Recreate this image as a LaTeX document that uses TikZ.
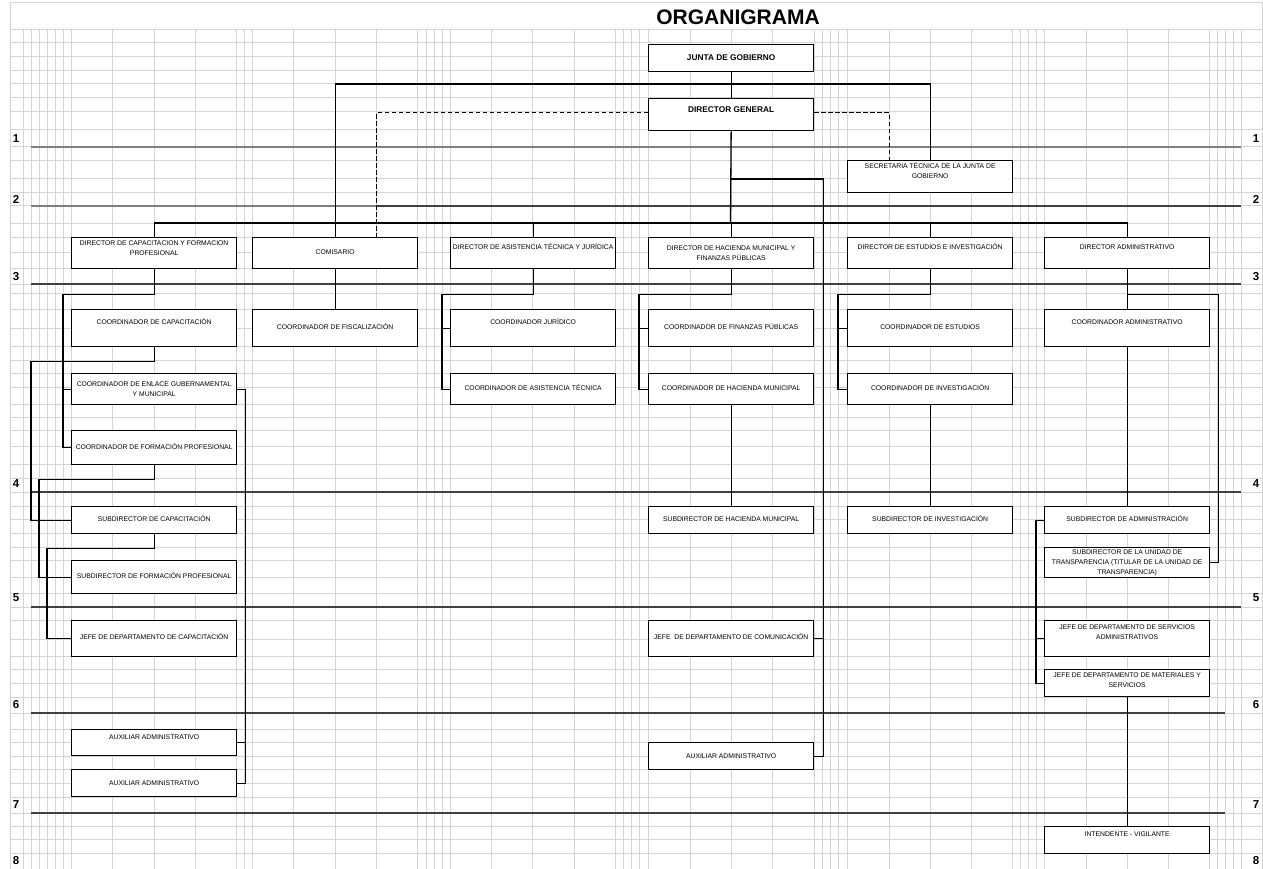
\documentclass[tikz,border=0pt]{standalone}
\usepackage{fontspec}
\setmainfont{Liberation Sans}
\begin{document}
\begin{tikzpicture}[x=1pt,y=-1pt,
  gridline/.style={draw=black!17, line width=1pt},
  rowline/.style={draw=black!75, line width=1.3pt},
  rowlabel/.style={font=\bfseries\fontsize{11.5}{12}\selectfont, inner sep=0pt},
  box/.style={draw, fill=white, line width=1.3pt, anchor=north west, minimum width=165pt,
    inner xsep=1pt, inner ysep=0pt, align=center, font=\fontsize{6.8}{10}\selectfont},
  headbox/.style={box, font=\bfseries\fontsize{8.3}{10}\selectfont},
  hgt/.style n args={3}{minimum height=#1pt, text height=#2pt, text depth=#3pt},
  conn/.style={line width=1.3pt},
]
\useasboundingbox (0,0) rectangle (1263,869);

% Spreadsheet grid
\draw[gridline] (10,869) -- (10,3) -- (1262,3) -- (1262,869);
\foreach \gx in {23,31,39,47,55,63,71,112,154,195,236,244,252,293,335,376,417,426,434,442,
  450,491,532,574,615,623,631,639,648,690,731,772,814,822,830,838,847,889,930,971,1012,
  1020,1028,1036,1044,1086,1127,1168,1209,1217,1225,1233,1241}
  \draw[gridline] (\gx,30) -- (\gx,869);
\foreach \gy in {30,43,57,71,84,98,112,130,147,161,179,193,206,223,237,252,268,284,293,309,
  328,346,360,373,387,404,417,430,446,464,478,492,506,519,533,547,560,577,593,607,620,639,
  656,669,683,697,713,729,742,756,769,783,797,813,826,839,853}
  \draw[gridline] (10,\gy) -- (1262,\gy);

% Level lines and numbers
\draw[rowline, draw=black!50] (31,147) -- (1241,147);
\draw[rowline, draw=black!50] (31,206) -- (376,206);
\draw[rowline] (376,206) -- (1241,206);
\foreach \ry/\rx in {284/1241, 492/1241, 607/1241, 713/1225, 813/1225}
  \draw[rowline] (31,\ry) -- (\rx,\ry);
\foreach \n/\ly in {1/139, 2/199, 3/277, 4/484, 5/598, 6/705, 7/805, 8/861} {
  \node[rowlabel] (l\n) at (16,\ly) {\n};
  \node[rowlabel] (r\n) at (1256,\ly) {\n};
}

\node[font=\bfseries\fontsize{21}{21}\selectfont, inner sep=0pt] (title) at (738,17.5) {ORGANIGRAMA};

% Top level
\node[headbox, hgt={27}{16}{11}] (jg) at (648,44) {JUNTA DE GOBIERNO};
\node[headbox, hgt={32}{14}{18}] (dg) at (648,98) {DIRECTOR GENERAL};
\node[box, hgt={32}{18}{14}] (stjg) at (847,160) {SECRETARIA TÉCNICA DE LA JUNTA DE\\GOBIERNO};

% Directors
\node[box, hgt={31}{17.5}{13.5}] (dcfp) at (71,237) {DIRECTOR DE CAPACITACION Y FORMACION\\PROFESIONAL};
\node[box, hgt={31}{17}{14}] (com) at (252,237) {COMISARIO};
\node[box, hgt={31}{12}{19}] (data) at (450,237) {DIRECTOR DE ASISTENCIA TÉCNICA Y JURÍDICA};
\node[box, hgt={31}{22.5}{8.5}] (dhmfp) at (648,237) {DIRECTOR DE HACIENDA MUNICIPAL Y\\FINANZAS PÚBLICAS};
\node[box, hgt={31}{12}{19}] (dei) at (847,237) {DIRECTOR DE ESTUDIOS E INVESTIGACIÓN};
\node[box, hgt={31}{12}{19}] (dadm) at (1044,237) {DIRECTOR ADMINISTRATIVO};

% Coordinators
\node[box, hgt={37}{15}{22}] (ccap) at (71,309) {COORDINADOR DE CAPACITACIÓN};
\node[box, hgt={37}{20}{17}] (cfis) at (252,309) {COORDINADOR DE FISCALIZACIÓN};
\node[box, hgt={37}{15}{22}] (cjur) at (450,309) {COORDINADOR JURÍDICO};
\node[box, hgt={37}{20}{17}] (cfp) at (648,309) {COORDINADOR DE FINANZAS PÚBLICAS};
\node[box, hgt={37}{20}{17}] (cest) at (847,309) {COORDINADOR DE ESTUDIOS};
\node[box, hgt={37}{15}{22}] (cadm) at (1044,309) {COORDINADOR ADMINISTRATIVO};
\node[box, hgt={31}{23}{8}] (cegm) at (71,373) {COORDINADOR DE ENLACE GUBERNAMENTAL\\Y MUNICIPAL};
\node[box, hgt={31}{17}{14}] (cat) at (450,373) {COORDINADOR DE ASISTENCIA TÉCNICA};
\node[box, hgt={31}{17}{14}] (chm) at (648,373) {COORDINADOR DE HACIENDA MUNICIPAL};
\node[box, hgt={31}{17}{14}] (cinv) at (847,373) {COORDINADOR DE INVESTIGACIÓN};
\node[box, hgt={34}{19}{15}] (cform) at (71,430) {COORDINADOR DE FORMACIÓN PROFESIONAL};

% Subdirectors
\node[box, hgt={27}{15}{12}] (scap) at (71,506) {SUBDIRECTOR DE CAPACITACIÓN};
\node[box, hgt={27}{15}{12}] (shm) at (648,506) {SUBDIRECTOR DE HACIENDA MUNICIPAL};
\node[box, hgt={27}{15}{12}] (sinv) at (847,506) {SUBDIRECTOR DE INVESTIGACIÓN};
\node[box, hgt={27}{15}{12}] (sadm) at (1044,506) {SUBDIRECTOR DE ADMINISTRACIÓN};
\node[box, hgt={30}{27}{3}] (sut) at (1044,547) {SUBDIRECTOR DE LA UNIDAD DE\\TRANSPARENCIA (TITULAR DE LA UNIDAD DE\\TRANSPARENCIA)};
\node[box, hgt={33}{18}{15}] (sform) at (71,560) {SUBDIRECTOR DE FORMACIÓN PROFESIONAL};

% Heads of department and staff
\node[box, hgt={36}{19}{17}] (jcap) at (71,620) {JEFE DE DEPARTAMENTO DE CAPACITACIÓN};
\node[box, hgt={36}{19}{17}] (jcom) at (648,620) {JEFE~ DE DEPARTAMENTO DE COMUNICACIÓN};
\node[box, hgt={36}{19}{17}] (jsa) at (1044,620) {JEFE DE DEPARTAMENTO DE SERVICIOS\\ADMINISTRATIVOS};
\node[box, hgt={27}{18}{9}] (jms) at (1044,669) {JEFE DE DEPARTAMENTO DE MATERIALES Y\\SERVICIOS};
\node[box, hgt={26}{10}{16}] (aux1) at (71,729) {AUXILIAR ADMINISTRATIVO};
\node[box, hgt={27}{16}{11}] (aux2) at (71,769) {AUXILIAR ADMINISTRATIVO};
\node[box, hgt={27}{16}{11}] (aux3) at (648,742) {AUXILIAR ADMINISTRATIVO};
\node[box, hgt={27}{10}{17}] (iv) at (1044,826) {INTENDENTE - VIGILANTE};

% Connectors
\coordinate (jlink) at (730.5,84);
\coordinate (dgb) at (730.5,179);
\coordinate (bus) at (730.5,223);
\draw[conn] (jg) -- (dg);
\draw[conn] (com.north) |- (jlink) -| (stjg.north);
\draw[conn, dash pattern=on 4.5pt off 2.5pt] ([yshift=2pt]dg.west) -| ([xshift=41.5pt]com.north);
\draw[conn, dash pattern=on 4.5pt off 2.5pt] ([yshift=2pt]dg.east) -| ([xshift=-41pt]stjg.north);
\draw[conn] (dg.south) -- (bus);
\draw[conn] (dcfp.north) |- (bus) -| (dadm.north);
\foreach \d in {data,dhmfp,dei}
  \draw[conn] (\d.north) -- (\d.north |- bus);
\draw[conn] (dgb) -| ([xshift=9pt]aux3.east) -- (aux3.east);
\draw[conn] (jcom.east) -- ++(9,0);

% Capacitacion y formacion
\draw[conn] (dcfp.south) -- ++(0,25) -| ([xshift=-8pt]cform.west) -- (cform.west);
\draw[conn] (cegm.west) -- ++(-8,0);
\draw[conn] (ccap.south) -- ++(0,14) -| ([xshift=-40pt]scap.west) -- (scap.west);
\draw[conn] (cform.south) -- ++(0,14) -| ([xshift=-32pt]sform.west) -- (sform.west);
\draw[conn] (scap.south) -- ++(0,14) -| ([xshift=-24pt]jcap.west) -- (jcap.west);
\draw[conn] (cegm.east) -- ++(8,0) |- (aux2.east);
\draw[conn] (aux1.east) -- ++(8,0);

% Comisario
\draw[conn] (com.south) -- (cfis.north);

% Asistencia, hacienda, estudios
\draw[conn] (data.south) -- ++(0,25) -| ([xshift=-8pt]cat.west) -- (cat.west);
\draw[conn] (cjur.west) -- ++(-8,0);
\draw[conn] (dhmfp.south) -- ++(0,25) -| ([xshift=-9pt]chm.west) -- (chm.west);
\draw[conn] (cfp.west) -- ++(-9,0);
\draw[conn] (chm) -- (shm);
\draw[conn] (dei.south) -- ++(0,25) -| ([xshift=-9pt]cinv.west) -- (cinv.west);
\draw[conn] (cest.west) -- ++(-9,0);
\draw[conn] (cinv) -- (sinv);

% Administrativo
\draw[conn] (dadm) -- (cadm);
\draw[conn] (dadm.south) -- ++(0,25) -| ([xshift=8pt]sut.east) -- (sut.east);
\draw[conn] (cadm) -- (sadm);
\draw[conn] (sadm.west) -- ++(-8,0) |- (jms.west);
\draw[conn] (jsa.west) -- ++(-8,0);
\draw[conn] (jms) -- (iv);
\end{tikzpicture}
\end{document}
